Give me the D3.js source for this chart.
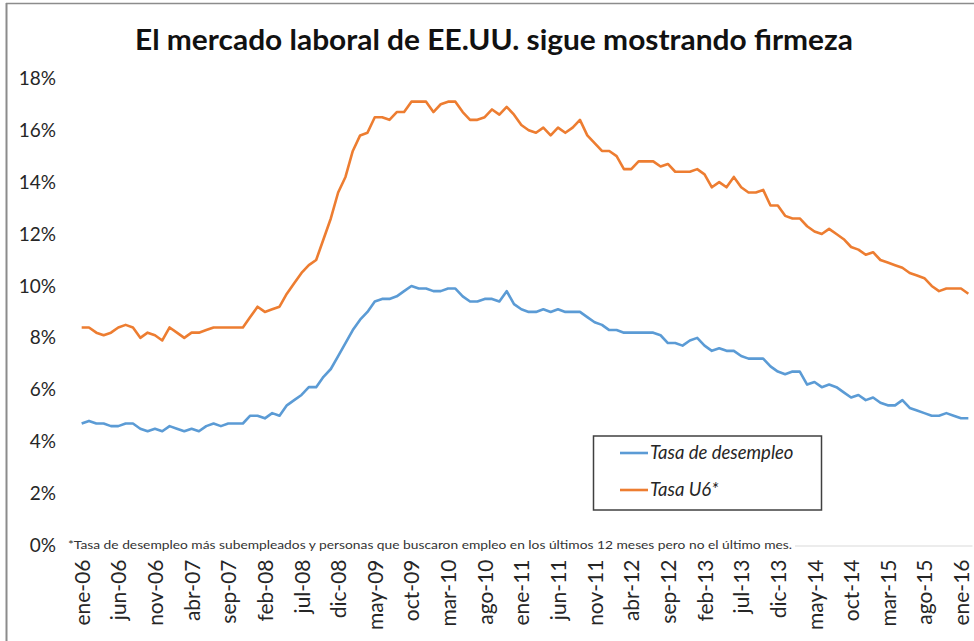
<!DOCTYPE html>
<html><head><meta charset="utf-8">
<script src="https://cdn.jsdelivr.net/npm/d3@7"></script>
<style>body{margin:0;background:#fff}svg{display:block}</style>
</head><body>
<svg id="c" width="974" height="641"></svg>
<script>
const monthNames = ["ene","feb","mar","abr","may","jun","jul","ago","sep","oct","nov","dic"];
const years = ["06","07","08","09","10","11","12","13","14","15","16"];
const categories = [];
years.forEach(y => monthNames.forEach(m => categories.push(m + "-" + y)));
categories.length = 122; // ene-06 .. feb-16

const tickLabels = ["ene-06","jun-06","nov-06","abr-07","sep-07","feb-08","jul-08","dic-08","may-09","oct-09","mar-10","ago-10","ene-11","jun-11","nov-11","abr-12","sep-12","feb-13","jul-13","dic-13","may-14","oct-14","mar-15","ago-15","ene-16"];

const unemployment = [
 4.7,4.8,4.7,4.7,4.6,4.6,4.7,4.7,4.5,4.4,4.5,4.4,
 4.6,4.5,4.4,4.5,4.4,4.6,4.7,4.6,4.7,4.7,4.7,5.0,
 5.0,4.9,5.1,5.0,5.4,5.6,5.8,6.1,6.1,6.5,6.8,7.3,
 7.8,8.3,8.7,9.0,9.4,9.5,9.5,9.6,9.8,10.0,9.9,9.9,
 9.8,9.8,9.9,9.9,9.6,9.4,9.4,9.5,9.5,9.4,9.8,9.3,
 9.1,9.0,9.0,9.1,9.0,9.1,9.0,9.0,9.0,8.8,8.6,8.5,
 8.3,8.3,8.2,8.2,8.2,8.2,8.2,8.1,7.8,7.8,7.7,7.9,
 8.0,7.7,7.5,7.6,7.5,7.5,7.3,7.2,7.2,7.2,6.9,6.7,
 6.6,6.7,6.7,6.2,6.3,6.1,6.2,6.1,5.9,5.7,5.8,5.6,
 5.7,5.5,5.4,5.4,5.6,5.3,5.2,5.1,5.0,5.0,5.1,5.0,
 4.9,4.9];

const u6 = [
 8.4,8.4,8.2,8.1,8.2,8.4,8.5,8.4,8.0,8.2,8.1,7.9,
 8.4,8.2,8.0,8.2,8.2,8.3,8.4,8.4,8.4,8.4,8.4,8.8,
 9.2,9.0,9.1,9.2,9.7,10.1,10.5,10.8,11.0,11.8,12.6,13.6,
 14.2,15.2,15.8,15.9,16.5,16.5,16.4,16.7,16.7,17.1,17.1,17.1,
 16.7,17.0,17.1,17.1,16.7,16.4,16.4,16.5,16.8,16.6,16.9,16.6,
 16.2,16.0,15.9,16.1,15.8,16.1,15.9,16.1,16.4,15.8,15.5,15.2,
 15.2,15.0,14.5,14.5,14.8,14.8,14.8,14.6,14.7,14.4,14.4,14.4,
 14.5,14.3,13.8,14.0,13.8,14.2,13.8,13.6,13.6,13.7,13.1,13.1,
 12.7,12.6,12.6,12.3,12.1,12.0,12.2,12.0,11.8,11.5,11.4,11.2,
 11.3,11.0,10.9,10.8,10.7,10.5,10.4,10.3,10.0,9.8,9.9,9.9,
 9.9,9.7];

const yTicks = [0,2,4,6,8,10,12,14,16,18];
const seriesNames = ["Tasa de desempleo","Tasa U6*"];
const seriesColors = ["#5B9BD5","#ED7D31"];
const title = "El mercado laboral de EE.UU. sigue mostrando firmeza";
const footnote = "*Tasa de desempleo más subempleados y personas que buscaron empleo en los últimos 12 meses pero no el último mes.";

const svg = d3.select("#c");
const font = "Lato, 'Open Sans', sans-serif";

// frame
svg.append("line").attr("x1",6.5).attr("x2",6.5).attr("y1",3).attr("y2",641).attr("stroke","#8c8c8c").attr("stroke-width",2);
svg.append("line").attr("x1",6).attr("x2",974).attr("y1",3.5).attr("y2",3.5).attr("stroke","#8c8c8c").attr("stroke-width",1.5);

const x = d3.scalePoint().domain(categories).range([78, 972]).padding(0.5);
const y = d3.scaleLinear().domain([0, 18]).range([545.5, 78.3]);

// title
svg.append("text").attr("x", 494).attr("y", 50).attr("text-anchor","middle")
  .attr("font-family", font).attr("font-weight","bold").attr("font-size", 28)
  .attr("fill","#111").attr("textLength", 718).attr("lengthAdjust","spacingAndGlyphs").text(title);

// y axis labels
const yAxis = d3.axisLeft(y).tickValues(yTicks).tickFormat(d => d + "%").tickSize(0).tickPadding(0);
const gy = svg.append("g").attr("transform","translate(56,0)").call(yAxis);
gy.select(".domain").remove();
gy.selectAll("text").attr("font-family", font).attr("font-size", 19).attr("fill","#262626");

// x axis
const xAxis = d3.axisBottom(x).tickValues(tickLabels).tickSize(0).tickPadding(0);
const gx = svg.append("g").attr("transform","translate(0,545.5)").call(xAxis);
gx.select(".domain").attr("stroke","#d9d9d9").attr("stroke-width",1.2);
gx.selectAll("text").attr("font-family", font).attr("font-size", 21).attr("fill","#262626")
  .attr("text-anchor","end").attr("transform","rotate(-90)").attr("x",-14).attr("y",0).attr("dy","0.36em");

// footnote with white background
svg.append("rect").attr("x",66).attr("y",537).attr("width",729).attr("height",14).attr("fill","#fff");
svg.append("text").attr("x",68).attr("y",549).attr("font-family",font).attr("font-size",11.5)
  .attr("fill","#333").attr("textLength",724).attr("lengthAdjust","spacingAndGlyphs").text(footnote);

// lines
const line = d3.line().x((d,i) => x(categories[i])).y(d => y(d));
[unemployment, u6].forEach((s, k) => {
  svg.append("path").datum(s).attr("d", line).attr("fill","none")
    .attr("stroke", seriesColors[k]).attr("stroke-width", 2.6).attr("stroke-linejoin","round");
});

// legend
const lg = svg.append("g");
lg.append("rect").attr("x",593.5).attr("y",436).attr("width",228).attr("height",74)
  .attr("fill","#fff").attr("stroke","#404040").attr("stroke-width",1.5);
seriesNames.forEach((n, k) => {
  const yy = 453 + k * 37;
  lg.append("line").attr("x1",620).attr("x2",648).attr("y1",yy).attr("y2",yy)
    .attr("stroke",seriesColors[k]).attr("stroke-width",2.6);
  lg.append("text").attr("x",650).attr("y",yy).attr("dy","0.35em").attr("font-family",font)
    .attr("font-style","italic").attr("font-size",18.5).attr("fill","#262626").text(n);
});
</script>
</body></html>
